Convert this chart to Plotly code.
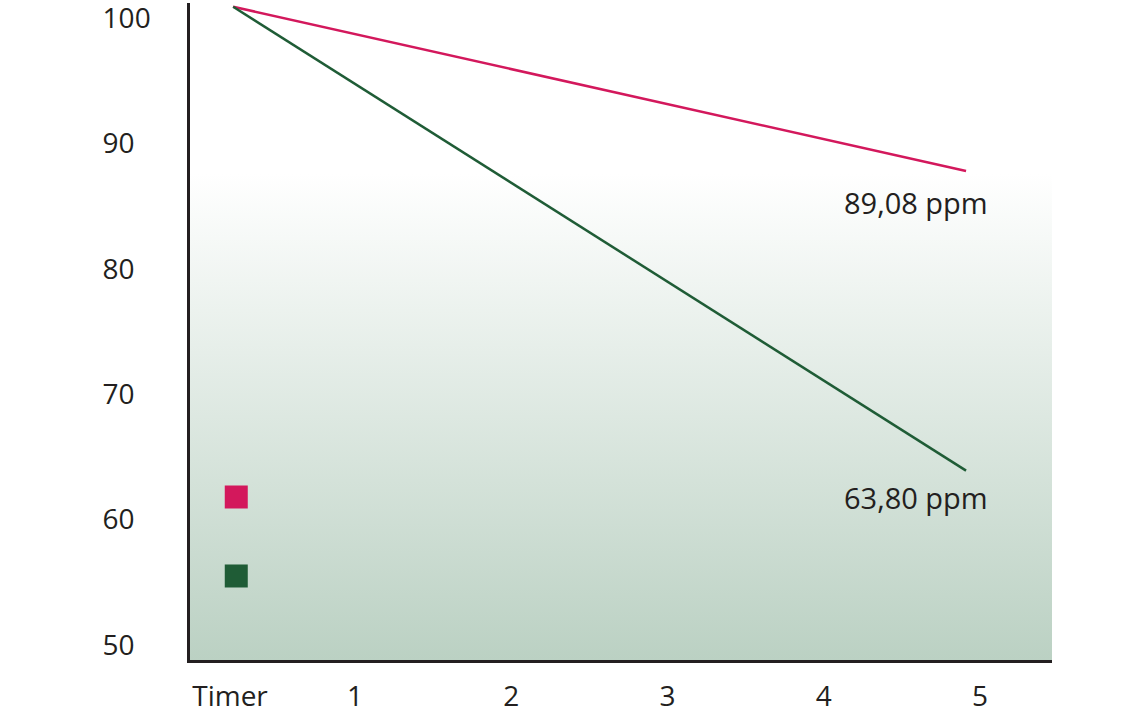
import plotly.graph_objects as go

# Data
time_points = [0.22, 4.91]
red_values = [100.9, 87.8]
green_values = [100.9, 63.9]
end_labels = ["89,08 ppm", "63,80 ppm"]
label_x = [4.59, 4.59]
label_y = [85.3, 61.8]
legend_x = [0.24, 0.24]
legend_y = [61.8, 55.5]
x_tickvals = [0.2, 1, 2, 3, 4, 5]
x_ticktext = ["Timer", "1", "2", "3", "4", "5"]
y_tickvals = [50, 60, 70, 80, 90, 100]
y_ticktext = ["50\u2007", "60\u2007", "70\u2007", "80\u2007", "90\u2007", "100"]

RED = "#d3185c"
GREEN = "#1f5c36"
FONT = "Open Sans"

x_range = [-0.056, 5.46]
y_range = [48.8, 101.2]
grad_top = 87.6

fig = go.Figure()

# gradient background
fig.add_trace(go.Scatter(
    x=[x_range[0], x_range[1], x_range[1], x_range[0], x_range[0]],
    y=[y_range[0], y_range[0], grad_top, grad_top, y_range[0]],
    mode="lines", line=dict(width=0), fill="toself",
    fillgradient=dict(type="vertical", start=y_range[0], stop=grad_top,
                      colorscale=[[0, "#bbd1c3"], [1, "#ffffff"]]),
    hoverinfo="skip", showlegend=False))

fig.add_trace(go.Scatter(x=time_points, y=red_values, mode="lines",
                         line=dict(color=RED, width=2.5), showlegend=False))
fig.add_trace(go.Scatter(x=time_points, y=green_values, mode="lines",
                         line=dict(color=GREEN, width=2.5), showlegend=False))

fig.add_trace(go.Scatter(x=legend_x, y=legend_y, mode="markers",
                         marker=dict(symbol="square", size=23, color=[RED, GREEN],
                                     line=dict(width=0)),
                         showlegend=False))

for t, lx, ly in zip(end_labels, label_x, label_y):
    fig.add_annotation(x=lx, y=ly, text=t, showarrow=False,
                       font=dict(family=FONT, size=29, color="#231f20"))

fig.update_layout(
    width=1140, height=713,
    margin=dict(l=190, r=88, t=3, b=53),
    paper_bgcolor="white", plot_bgcolor="white",
    font=dict(family=FONT, size=28, color="#231f20"),
)
fig.update_xaxes(range=x_range, tickvals=x_tickvals, ticktext=x_ticktext,
                 showgrid=False, zeroline=False, showline=True,
                 linecolor="#231f20", linewidth=2.5, ticks="",
                 ticklabelstandoff=10, automargin=False,
                 ticklabeloverflow="allow")
fig.update_yaxes(range=y_range, tickvals=y_tickvals, ticktext=y_ticktext,
                 showgrid=False, zeroline=False, showline=True,
                 linecolor="#231f20", linewidth=2.5, ticks="",
                 ticklabelstandoff=31, automargin=False,
                 ticklabeloverflow="allow")

fig.write_html("out.html", config={"displayModeBar": False},
               post_script="document.body.style.margin='0';document.body.style.overflow='hidden';")
